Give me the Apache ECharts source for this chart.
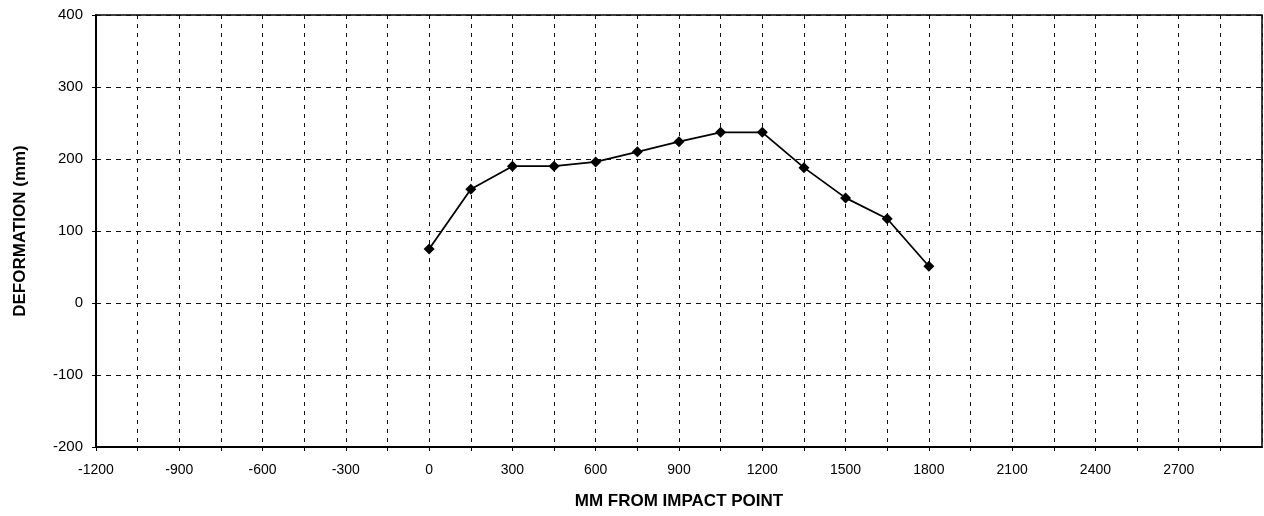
<!DOCTYPE html>
<html>
<head>
<meta charset="utf-8">
<script src="https://cdn.jsdelivr.net/npm/echarts@6/dist/echarts.min.js"></script>
<style>
html,body{margin:0;padding:0;background:#fff;}
#c{width:1264px;height:516px;}
</style>
</head>
<body>
<div id="c"></div>
<script>
const xPositions = [0, 150, 300, 450, 600, 750, 900, 1050, 1200, 1350, 1500, 1650, 1800];
const deformation = [75, 158, 190, 190, 196, 210, 224, 237, 237, 188, 146, 117, 51];
const xTitle = 'MM FROM IMPACT POINT';
const yTitle = 'DEFORMATION (mm)';

const FONT = '"Liberation Sans", Arial, sans-serif';
const chart = echarts.init(document.getElementById('c'));
chart.setOption({
  animation: false,
  backgroundColor: '#fff',
  grid: {left: 96, right: 2, top: 15, bottom: 69, show: true, borderColor: '#000', borderWidth: 1.5},
  xAxis: {
    type: 'value', min: -1200, max: 3000, interval: 150,
    name: xTitle, nameLocation: 'middle', nameGap: 46,
    nameTextStyle: {fontFamily: FONT, fontSize: 17, fontWeight: 'bold', color: '#000'},
    axisLine: {show: true, onZero: false, lineStyle: {color: '#000', width: 2}},
    axisTick: {show: true, length: 4, lineStyle: {color: '#000'}},
    axisLabel: {
      fontFamily: FONT, fontSize: 14, color: '#000', margin: 16,
      showMaxLabel: false,
      formatter: v => (v % 300 === 0 && v <= 2700) ? String(v) : ''
    },
    splitLine: {show: true, lineStyle: {color: '#111', type: [4, 5], width: 1}}
  },
  yAxis: {
    type: 'value', min: -200, max: 400, interval: 100,
    name: yTitle, nameLocation: 'middle', nameGap: 67, nameRotate: 90,
    nameTextStyle: {fontFamily: FONT, fontSize: 17, fontWeight: 'bold', color: '#000'},
    axisLine: {show: true, onZero: false, lineStyle: {color: '#000', width: 2}},
    axisTick: {show: true, length: 4, lineStyle: {color: '#000'}},
    axisLabel: {fontFamily: FONT, fontSize: 15, color: '#000', margin: 13},
    splitLine: {show: true, lineStyle: {color: '#111', type: [5, 5], width: 1}}
  },
  series: [{
    type: 'line',
    data: xPositions.map((x, i) => [x, deformation[i]]),
    symbol: 'diamond', symbolSize: 11,
    itemStyle: {color: '#000'},
    lineStyle: {color: '#000', width: 1.8}
  }]
});
</script>
</body>
</html>
